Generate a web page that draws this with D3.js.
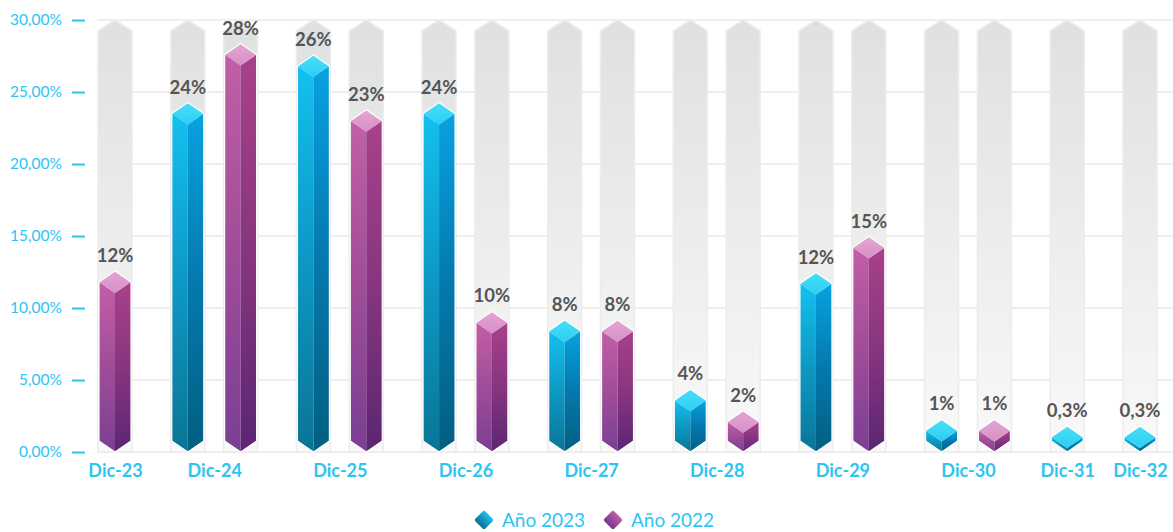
<!DOCTYPE html>
<html>
<head>
<meta charset="utf-8">
<script src="https://cdn.jsdelivr.net/npm/d3@7"></script>
<style>
  html, body { margin:0; padding:0; background:#fff; }
  #chart { width:1173px; height:532px; }
  .axis-y text { fill:#2ec4f2; font-family:Lato, "Open Sans", sans-serif; font-size:15.5px; }
  .axis-y line { stroke:#2ec4f2; stroke-width:2; }
  .axis-x text { fill:#2ec4f2; font-family:Lato, "Open Sans", sans-serif; font-size:18px; font-weight:700; }
  .value-label { fill:#555; font-family:Lato, "Open Sans", sans-serif; font-size:18.5px; font-weight:700; text-anchor:middle; }
  .legend text { fill:#2ec4f2; font-family:Lato, "Open Sans", sans-serif; font-size:19px; }
</style>
</head>
<body>
<div id="chart"></div>
<script>
// ====== données
const CATEGORIES = ["Dic-23","Dic-24","Dic-25","Dic-26","Dic-27","Dic-28","Dic-29","Dic-30","Dic-31","Dic-32"];
const ANIO_2023  = [null, 23.5, 26.8, 23.5, 8.4, 3.6, 11.7, 1.5, 0.3, 0.3];
const ANIO_2022  = [11.8, 27.6, 23.0, 9.0, 8.4, 2.1, 14.2, 1.5, null, null];
const LABELS_2023 = [null, "24%", "26%", "24%", "8%", "4%", "12%", "1%", "0,3%", "0,3%"];
const LABELS_2022 = ["12%", "28%", "23%", "10%", "8%", "2%", "15%", "1%", null, null];
const Y_TICKS = [0, 5, 10, 15, 20, 25, 30];
const SERIES = [
  { key:"2023", name:"Año 2023", values:ANIO_2023, labels:LABELS_2023 },
  { key:"2022", name:"Año 2022", values:ANIO_2022, labels:LABELS_2022 }
];

// ====== dimensions
const W = 1173, H = 532;
const M = { t:20, b:80, l:97 };
const BAR_W = 32, BG_W = 34, CAP = 11, MIN_FACE = 4;
const GAP_IN = 53, GAP_OUT = 73;   // pas entre barres d'un même groupe / entre groupes

const svg = d3.select("#chart").append("svg")
  .attr("width", W).attr("height", H)
  .attr("viewBox", [0, 0, W, H]);

const y = d3.scaleLinear().domain([0, 30]).range([H - M.b, M.t]);
const y0 = y(0);

// ====== positions des barres (nombre variable par catégorie)
const bars = [];
let pos = 0, first = true;
CATEGORIES.forEach((cat, i) => {
  let firstInGroup = true;
  SERIES.forEach(s => {
    const v = s.values[i];
    if (v == null) return;
    if (!first) pos += firstInGroup ? GAP_OUT : GAP_IN;
    bars.push({ cat, series:s.key, value:v, label:s.labels[i], u:pos });
    first = false; firstInGroup = false;
  });
});
const x = d3.scaleLinear().domain([0, pos]).range([115, 1140]);
const catX = d3.scaleOrdinal()
  .domain(CATEGORIES)
  .range(CATEGORIES.map(c => d3.mean(bars.filter(b => b.cat === c), b => x(b.u))));

// ====== dégradés
const defs = svg.append("defs");
function vgrad(id, stops){
  const g = defs.append("linearGradient").attr("id", id)
    .attr("x1", 0).attr("y1", 0).attr("x2", 0).attr("y2", 1);
  stops.forEach(([o, c]) => g.append("stop").attr("offset", o).attr("stop-color", c));
}
vgrad("bg-grad", [[0, "#dfe0e0"], [1, "#f9f9f9"]]);
vgrad("l-2023", [[0, "#14c0ef"], [0.5, "#0d98c4"], [1, "#0a7595"]]);
vgrad("r-2023", [[0, "#08a2e0"], [0.5, "#0479ae"], [1, "#025f80"]]);
vgrad("c-2023", [[0, "#48e0fa"], [1, "#2ccdf2"]]);
vgrad("l-2022", [[0, "#c25fa6"], [0.5, "#a04c99"], [1, "#7a3f93"]]);
vgrad("r-2022", [[0, "#a8418a"], [0.5, "#87357f"], [1, "#5b2672"]]);
vgrad("c-2022", [[0, "#e6a4d4"], [1, "#d690c6"]]);
vgrad("leg-2023", [[0, "#1ec3ef"], [1, "#0a6f90"]]);
vgrad("leg-2022", [[0, "#c35ca8"], [1, "#72388e"]]);

// ====== grille
svg.append("g").attr("class", "grid")
  .selectAll("line").data(Y_TICKS).join("line")
  .attr("x1", M.l).attr("x2", W)
  .attr("y1", d => y(d)).attr("y2", d => y(d))
  .attr("stroke", "#e8e8e8").attr("stroke-width", 1.5);

// ====== axe y
const fmt = d => d.toFixed(2).replace(".", ",") + "%";
svg.append("g").attr("class", "axis-y")
  .attr("transform", "translate(85,0)")
  .call(d3.axisLeft(y).tickValues(Y_TICKS).tickFormat(fmt).tickSize(13).tickPadding(10))
  .call(g => g.select(".domain").remove());

// ====== axe x (libellés catégories)
svg.append("g").attr("class", "axis-x")
  .attr("transform", `translate(0,${y0 + 3})`)
  .call(d3.axisBottom(catX).tickSize(0).tickPadding(9))
  .call(g => g.select(".domain").remove());

// ====== colonnes 3D
const line = d3.line();
const g = svg.selectAll("g.bar").data(bars).join("g").attr("class", "bar")
  .attr("transform", d => `translate(${x(d.u)},0)`);

// fond gris
g.append("path")
  .attr("d", () => {
    const hw = BG_W / 2, top = y(30);
    return line([[-hw, top + CAP], [0, top], [hw, top + CAP], [hw, y0], [-hw, y0]]) + "Z";
  })
  .attr("fill", "url(#bg-grad)")
  .attr("stroke", "#ececec").attr("stroke-width", 1.5);

function yc(d){ return Math.min(y(d.value), y0 - CAP - MIN_FACE); }
const hw = BAR_W / 2;

g.append("path") // face gauche
  .attr("d", d => line([[-hw, yc(d)], [0, yc(d) + CAP], [0, y0], [-hw, y0 - CAP]]) + "Z")
  .attr("fill", d => `url(#l-${d.series})`);
g.append("path") // face droite
  .attr("d", d => line([[0, yc(d) + CAP], [hw, yc(d)], [hw, y0 - CAP], [0, y0]]) + "Z")
  .attr("fill", d => `url(#r-${d.series})`);
g.append("path") // chapeau
  .attr("d", d => line([[-hw, yc(d)], [0, yc(d) - CAP], [hw, yc(d)], [0, yc(d) + CAP]]) + "Z")
  .attr("fill", d => `url(#c-${d.series})`);
g.append("path") // contour blanc
  .attr("d", d => line([[-hw, yc(d)], [0, yc(d) - CAP], [hw, yc(d)], [hw, y0 - CAP], [0, y0], [-hw, y0 - CAP]]) + "Z")
  .attr("fill", "none").attr("stroke", "#fff").attr("stroke-width", 1.2);

g.append("text").attr("class", "value-label")
  .attr("y", d => yc(d) - CAP - 9)
  .text(d => d.label);

// ====== légende
const leg = svg.append("g").attr("class", "legend").attr("transform", "translate(0,520)");
const items = [
  { key:"2023", name:SERIES[0].name, x:484 },
  { key:"2022", name:SERIES[1].name, x:613 }
];
const li = leg.selectAll("g").data(items).join("g").attr("transform", d => `translate(${d.x},0)`);
li.append("rect")
  .attr("x", -7).attr("y", -7).attr("width", 14).attr("height", 14).attr("rx", 2)
  .attr("transform", "rotate(45)")
  .attr("fill", d => `url(#leg-${d.key})`);
li.append("text").attr("x", 18).attr("dy", "0.35em").text(d => d.name);
</script>
</body>
</html>
